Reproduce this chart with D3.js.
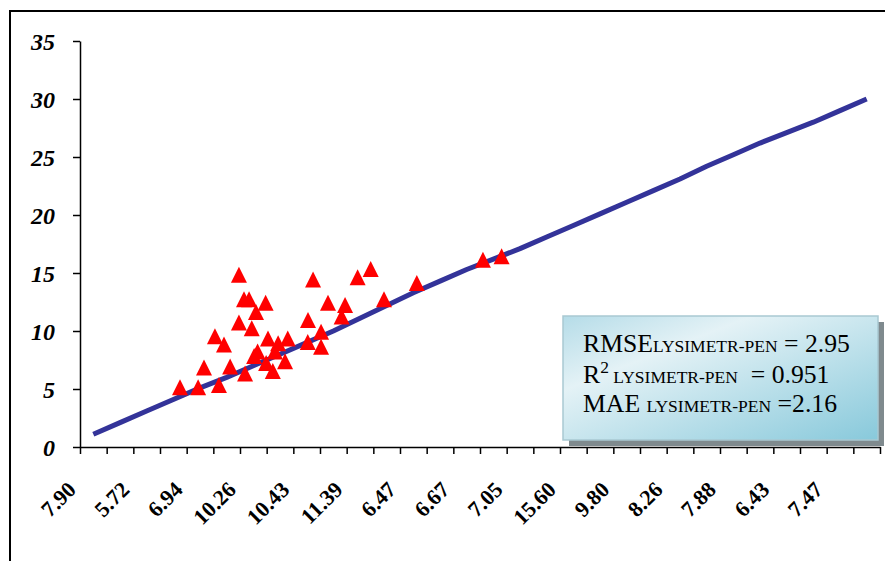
<!DOCTYPE html>
<html>
<head>
<meta charset="utf-8">
<script src="https://cdn.jsdelivr.net/npm/d3@7"></script>
<style>
  html, body { margin: 0; padding: 0; background: #fff; }
  svg { display: block; }
</style>
</head>
<body>
<svg id="chart" width="885" height="561"></svg>
<script>
// ---- data ----
const categoryLabels = ["7.90","", "5.72","", "6.94","", "10.26","", "10.43","", "11.39","", "6.47","", "6.67","",
  "7.05","", "15.60","", "9.80","", "8.26","", "7.88","", "6.43","", "7.47",""];
const lineValues = [1.1, 2.1, 3.1, 4.1, 5.1, 6.0, 7.0, 8.0, 9.0, 10.0, 11.1, 12.2, 13.3, 14.3, 15.3,
  16.2, 17.1, 18.1, 19.1, 20.1, 21.1, 22.1, 23.1, 24.2, 25.2, 26.2, 27.1, 28.0, 29.0, 30.0];
// measured points: position along category axis (category units) and value
const pointX = [3.75, 4.43, 5.21, 4.65, 5.63, 5.06, 5.40, 5.96, 5.96, 6.15, 6.34, 6.44, 6.60, 6.96,
  6.19, 6.66, 6.53, 7.05, 6.98, 7.23, 7.31, 7.43, 7.69, 7.79, 8.54, 9.04, 8.55, 9.04, 8.74, 9.30,
  9.81, 9.94, 10.41, 10.90, 11.40, 12.63, 15.11, 15.81];
const pointY = [5.1, 5.1, 5.3, 6.8, 6.9, 9.5, 8.8, 14.8, 10.7, 12.7, 12.7, 10.2, 11.6, 12.4,
  6.3, 8.2, 7.8, 9.3, 7.2, 6.5, 8.2, 8.9, 7.35, 9.3, 9.0, 8.6, 10.9, 9.9, 14.4, 12.4,
  11.2, 12.2, 14.6, 15.3, 12.7, 14.1, 16.1, 16.4];
const yTicks = [0, 5, 10, 15, 20, 25, 30, 35];
const statLines = [
  [["RMSE", "main"], ["LYSIMETR-PEN", "sub"], [" = 2.95", "main"]],
  [["R", "main"], ["2", "sup"], [" LYSIMETR-PEN", "sub"], ["\u00a0 = 0.951", "main"]],
  [["MAE ", "main"], ["LYSIMETR-PEN", "sub"], [" =2.16", "main"]]
];

// ---- layout ----
const svg = d3.select("#chart");
const plotLeft = 80, plotRight = 880, plotTop = 41, plotBottom = 447;
const nCat = lineValues.length;
const x = d3.scaleLinear().domain([0, nCat]).range([plotLeft, plotRight]);
const y = d3.scaleLinear().domain([0, 35]).range([plotBottom, plotTop]);

// outer frame
svg.append("rect").attr("x", 10).attr("y", 11).attr("width", 900).attr("height", 600)
  .attr("fill", "none").attr("stroke", "#000").attr("stroke-width", 2);

// y axis
const yAxis = d3.axisLeft(y).tickValues(yTicks).tickSize(7).tickSizeOuter(0).tickFormat(d3.format("d"));
const gy = svg.append("g").attr("transform", `translate(${plotLeft},0)`).call(yAxis);
gy.select(".domain").attr("stroke", "#000").attr("stroke-width", 1.5);
gy.selectAll(".tick line").attr("stroke", "#000").attr("stroke-width", 1.5);
gy.selectAll(".tick text")
  .attr("x", -25)
  .attr("dy", "0.35em")
  .style("font-family", "'Liberation Serif','Times New Roman',serif")
  .style("font-size", "24px").style("font-weight", "bold").style("font-style", "italic")
  .attr("fill", "#000");

// x axis (ticks between categories)
const xAxis = d3.axisBottom(x).tickValues(d3.range(0, nCat + 1)).tickSize(7).tickSizeOuter(0).tickFormat("");
const gx = svg.append("g").attr("transform", `translate(0,${plotBottom})`).call(xAxis);
gx.select(".domain").attr("stroke", "#000").attr("stroke-width", 1.5);
gx.selectAll(".tick line").attr("stroke", "#000").attr("stroke-width", 1.5);

// x labels
svg.append("g").selectAll("text")
  .data(categoryLabels.map((t, i) => ({t, i})).filter(d => d.t !== ""))
  .join("text")
  .attr("transform", d => `translate(${x(d.i + 0.5) - 16},${plotBottom + 44}) rotate(-45)`)
  .attr("text-anchor", "end")
  .style("font-family", "'Liberation Serif','Times New Roman',serif")
  .style("font-size", "22px").style("font-weight", "bold")
  .attr("fill", "#000")
  .text(d => d.t);

// line series
const line = d3.line().x((d, i) => x(i + 0.5)).y(d => y(d));
svg.append("path").datum(lineValues)
  .attr("d", line).attr("fill", "none")
  .attr("stroke", "#333399").attr("stroke-width", 5).attr("stroke-linejoin", "round");

// triangles
const tri = "M0,-8.5L8,7.5L-8,7.5Z";
svg.append("g").selectAll("path")
  .data(pointX.map((px, i) => [px, pointY[i]]))
  .join("path")
  .attr("d", tri)
  .attr("transform", d => `translate(${x(d[0])},${y(d[1])})`)
  .attr("fill", "#ff0000");

// stats box
const defs = svg.append("defs");
const grad = defs.append("linearGradient").attr("id", "boxgrad")
  .attr("x1", "0").attr("y1", "0").attr("x2", "1").attr("y2", "1");
grad.append("stop").attr("offset", "0").attr("stop-color", "#b5dce8");
grad.append("stop").attr("offset", "0.3").attr("stop-color", "#e4f2f6");
grad.append("stop").attr("offset", "1").attr("stop-color", "#88c9db");

const bx = 563, by = 316, bw = 315, bh = 124;
svg.append("rect").attr("x", bx + 6).attr("y", by + 6).attr("width", bw).attr("height", bh)
  .attr("fill", "#7f8a8e");
svg.append("rect").attr("x", bx).attr("y", by).attr("width", bw).attr("height", bh)
  .attr("fill", "url(#boxgrad)").attr("stroke", "#a9c9d2").attr("stroke-width", 1.5);

const baselines = [352, 383, 412];
const sizes = {main: 25.7, sub: 17.5, sup: 17.5};
statLines.forEach((parts, li) => {
  const t = svg.append("text")
    .attr("x", bx + 20).attr("y", baselines[li])
    .style("font-family", "'Liberation Serif','Times New Roman',serif")
    .style("white-space", "pre")
    .attr("fill", "#000");
  let prevSup = false;
  parts.forEach(([txt, kind]) => {
    const ts = t.append("tspan").style("font-size", sizes[kind] + "px").text(txt);
    if (kind === "sup") { ts.attr("dy", -10); prevSup = true; }
    else if (prevSup) { ts.attr("dy", 10); prevSup = false; }
  });
});
</script>
</body>
</html>
